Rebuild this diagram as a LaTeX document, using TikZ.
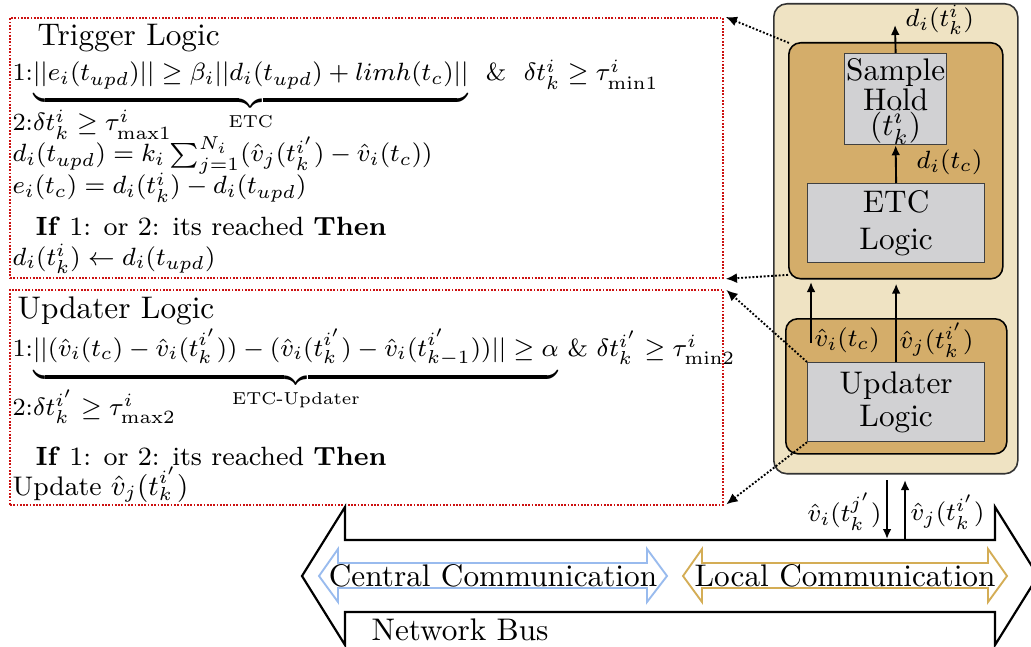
\documentclass[tikz,border=0pt]{standalone}
\usepackage{amsmath}
\usetikzlibrary{arrows.meta}
\definecolor{beige}{HTML}{EFE3C3}
\definecolor{tan}{HTML}{D4AD6A}
\definecolor{boxgray}{HTML}{D1D1D3}
\definecolor{dotred}{HTML}{CC1111}
\definecolor{commblue}{HTML}{99BBEE}
\definecolor{commgold}{HTML}{D4AD55}
\tikzset{
  redbox/.style={draw=dotred, line width=0.6pt, dash pattern=on 0.55pt off 0.5pt, inner sep=0pt, anchor=north west},
  outerbox/.style={draw=black!80, fill=beige, line width=0.5pt, rounded corners=4.2pt, inner sep=0pt, anchor=north west},
  tanbox/.style={draw=black, fill=tan, line width=0.5pt, rounded corners=3.8pt, inner sep=0pt, anchor=north west},
  graybox/.style={draw=black!75, fill=boxgray, line width=0.4pt, inner sep=0pt, anchor=north west, align=center},
  arr/.style={line width=0.6pt, -{Latex[length=3.2pt,width=2.8pt]}},
  dotarr/.style={line width=0.6pt, dash pattern=on 0.6pt off 0.6pt, -{Latex[length=3.6pt,width=3.2pt]}},
  title/.style={anchor=base west, inner sep=0pt},
  txt/.style={anchor=base west, inner sep=0pt, font=\fontsize{8.45}{10.2}\selectfont},
  mtxt/.style={anchor=base west, inner sep=0pt, font=\fontsize{7.9}{9.5}\selectfont},
  lbl/.style={inner sep=0pt},
  mlbl/.style={inner sep=0pt, font=\fontsize{8.4}{10}\selectfont},
}
\begin{document}
\begin{tikzpicture}[x=0.32pt, y=-0.32pt]
\useasboundingbox (0,0) rectangle (1031,646);
\clip (0,0) rectangle (1031,646);

% ---------- left text boxes ----------
\node[redbox, minimum width=228.16pt, minimum height=83.2pt] (TRG) at (9,17) {};
\node[redbox, minimum width=228.16pt, minimum height=68.8pt] (UPL) at (9,289) {};

\node[title] (t0) at (37,46) {Trigger Logic};
\node[mtxt] (t1) at (12,81) {1:$\underbrace{||e_i(t_{upd})|| \geq \beta_i||d_i(t_{upd})+limh(t_c)||}_{\text{ETC}}$ \ \& \ $\delta t_k^i \geq \tau^i_{\mathrm{min1}}$};
\node[mtxt] (t2) at (12,131) {2:$\delta t_k^i \geq \tau^i_{\mathrm{max1}}$};
\node[mtxt] (t3) at (12,162) {$d_i(t_{upd}) = k_i\sum_{j=1}^{N_i}(\hat{v}_j(t_k^{i'}) - \hat{v}_i(t_c))$};
\node[mtxt] (t4) at (12,194) {$e_i(t_c) = d_i(t_k^i) - d_i(t_{upd})$};
\node[txt] (t5) at (35,235) {\textbf{If} 1: or 2: its reached \textbf{Then}};
\node[mtxt] (t6) at (12,265) {$d_i(t_k^i) \leftarrow d_i(t_{upd})$};

\node[title] (u0) at (17,318) {Updater Logic};
\node[mtxt] (u1) at (12,356) {1:$\underbrace{||(\hat{v}_i(t_c) - \hat{v}_i(t_k^{i'})) - (\hat{v}_i(t_k^{i'}) - \hat{v}_i(t_{k-1}^{i'}))|| \geq \alpha}_{\text{ETC-Updater}}$ \& $\delta t_k^{i'} \geq \tau^i_{\mathrm{min2}}$};
\node[mtxt] (u2) at (12,415) {2:$\delta t_k^{i'} \geq \tau^i_{\mathrm{max2}}$};
\node[txt] (u3) at (35,465) {\textbf{If} 1: or 2: its reached \textbf{Then}};
\node[txt] (u4) at (12,495) {\fontsize{8.6}{10.3}\selectfont Update $\hat{v}_j(t_k^{i'})$};

% ---------- right agent ----------
\node[outerbox, minimum width=78.08pt, minimum height=150.4pt] (OUT) at (773,3) {};
\node[tanbox, minimum width=68.48pt, minimum height=75.52pt] (TT) at (788,42) {};
\node[graybox, minimum width=32.64pt, minimum height=29.12pt] (SH) at (844,53) {\rule{0pt}{8.5pt}Sample\\[-2.6pt]Hold\\[-4pt]$(t_k^i)$};
\node[graybox, minimum width=56.64pt, minimum height=25.28pt] (ETC) at (807,183) {ETC\\Logic};
\node[tanbox, minimum width=70.72pt, minimum height=43.2pt] (TB) at (785,318) {};
\node[graybox, minimum width=56.64pt, minimum height=25.28pt] (UPD) at (807,362) {Updater\\[-1.5pt]Logic};

\coordinate (dout) at (895,25);
\draw[arr] (SH.north) -- (dout);
\node[mlbl, anchor=west] (ldout) at (905,20) {$d_i(t_k^i)$};
\draw[arr] (ETC.north) -- (SH.south);
\node[mlbl, anchor=west] (ldc) at (916,162) {$d_i(t_c)$};

\coordinate (vi0) at (811,343);
\coordinate (vi1) at (811,282);
\draw[arr] (vi0) -- (vi1);
\draw[arr] (UPD.north) -- ([yshift=-1.3pt]TT.south -| UPD.north);
\node[mlbl, anchor=west] (lvi) at (814,340) {$\hat{v}_i(t_c)$};
\node[mlbl, anchor=west] (lvj) at (899,340) {$\hat{v}_j(t_k^{i'})$};

% dotted connectors
\draw[dotarr] ([xshift=0.3pt,yshift=-0.3pt]TT.north west) -- ([xshift=0.6pt]TRG.north east);
\draw[dotarr] ([yshift=1.5pt]TT.south west) -- ([xshift=0.6pt]TRG.south east);
\draw[dotarr] (UPD.north west) -- ([xshift=0.8pt,yshift=-0.3pt]UPL.north east);
\draw[dotarr] (UPD.south west) -- ([xshift=0.8pt,yshift=0.5pt]UPL.south east);

% ---------- network bus ----------
\draw[line width=0.7pt, fill=white] (302,576) -- (345,507) -- (345,540) -- (995,540) -- (995,507) -- (1038,576) -- (995,645) -- (995,612) -- (345,612) -- (345,645) -- cycle;
\node[lbl] (nb) at (460,630) {Network Bus};

\draw[commblue, line width=0.6pt, fill=white] (319,576) -- (338,549) -- (338,563) -- (647,563) -- (647,549) -- (667,576) -- (647,602) -- (647,588) -- (338,588) -- (338,602) -- cycle;
\node[lbl] (cc) at (493,576) {Central Communication};
\draw[commgold, line width=0.6pt, fill=white] (683,576) -- (702,549) -- (702,563) -- (988,563) -- (988,549) -- (1007,576) -- (988,602) -- (988,588) -- (702,588) -- (702,602) -- cycle;
\node[lbl] (lc) at (845,576) {Local Communication};

% bus <-> agent arrows
\coordinate (a1) at (887,480);
\coordinate (a2) at (887,539);
\coordinate (b1) at (905,539);
\coordinate (b2) at (905,480);
\draw[arr] (a1) -- (a2);
\draw[arr] (b1) -- (b2);
\node[mlbl, anchor=east] (lbi) at (882,512) {$\hat{v}_i(t_k^{j'})$};
\node[mlbl, anchor=west] (lbj) at (910,512) {$\hat{v}_j(t_k^{i'})$};
\end{tikzpicture}
\end{document}
